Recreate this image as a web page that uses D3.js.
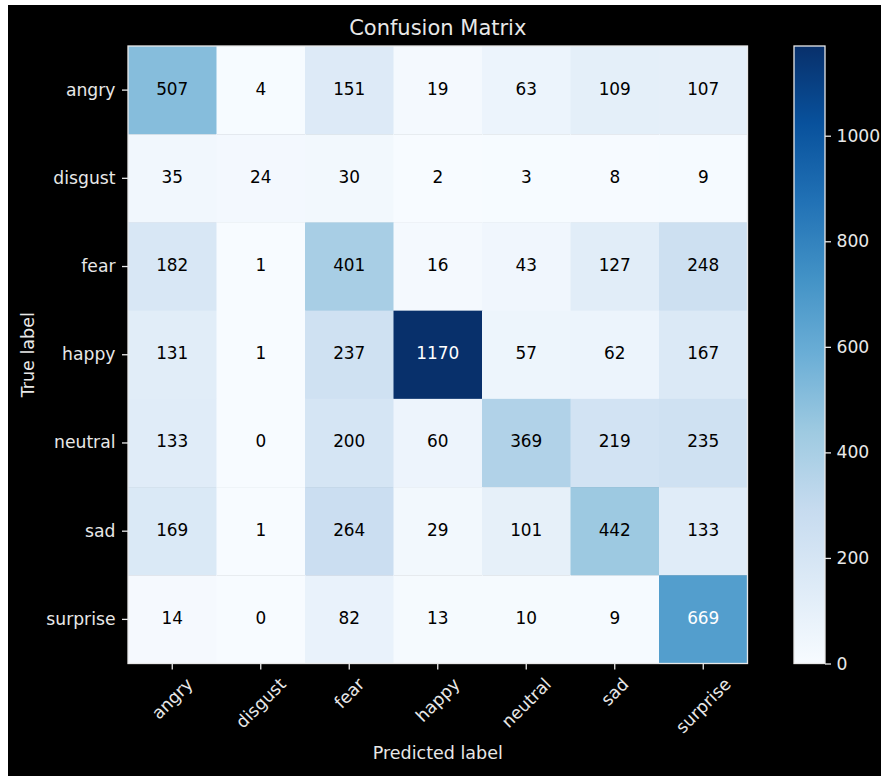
<!DOCTYPE html>
<html>
<head>
<meta charset="utf-8">
<script src="https://cdn.jsdelivr.net/npm/d3@7"></script>
<style>
  html, body { margin: 0; padding: 0; background: #fff; }
  text { font-family: "DejaVu Sans", sans-serif; }
</style>
</head>
<body>
<svg id="chart" width="881" height="776"></svg>
<script>
// class names, same order on both axes
var labels = ["angry", "disgust", "fear", "happy", "neutral", "sad", "surprise"];

// counts, one row per true label
var rowAngry    = [507, 4, 151, 19, 63, 109, 107];
var rowDisgust  = [35, 24, 30, 2, 3, 8, 9];
var rowFear     = [182, 1, 401, 16, 43, 127, 248];
var rowHappy    = [131, 1, 237, 1170, 57, 62, 167];
var rowNeutral  = [133, 0, 200, 60, 369, 219, 235];
var rowSad      = [169, 1, 264, 29, 101, 442, 133];
var rowSurprise = [14, 0, 82, 13, 10, 9, 669];

var colorbarTicks = [0, 200, 400, 600, 800, 1000];

var rows = [rowAngry, rowDisgust, rowFear, rowHappy, rowNeutral, rowSad, rowSurprise];

// matplotlib "Blues" is linear over the 9 brewer colours
var blues = ["#f7fbff","#deebf7","#c6dbef","#9ecae1","#6baed6","#4292c6","#2171b5","#08519c","#08306b"];

var cells = [];
rows.forEach(function (r, i) {
  r.forEach(function (v, j) {
    cells.push({ t: labels[i], p: labels[j], v: v });
  });
});

var vmax = d3.max(cells, function (d) { return d.v; });
var vmin = 0;
var thresh = vmax / 2;

var color = d3.scaleLinear()
  .domain(blues.map(function (c, i) { return vmin + (vmax - vmin) * i / (blues.length - 1); }))
  .range(blues);

var svg = d3.select("#chart");
var fg = "#e8e8e8";
var fs = 17.2;          // tick labels
var tick = 6, lw = 1.3;

// figure background (thin white strip left/top like the screenshot)
svg.append("rect").attr("width", 881).attr("height", 776).attr("fill", "#fff");
svg.append("rect").attr("x", 8).attr("y", 5).attr("width", 873).attr("height", 771).attr("fill", "#000");

var pLeft = 128, pRight = 747.5, pTop = 46, pBottom = 663.5;

var x = d3.scaleBand().domain(labels).range([pLeft, pRight]);
var y = d3.scaleBand().domain(labels).range([pTop, pBottom]);

// heat cells
svg.append("g").selectAll("rect")
  .data(cells)
  .enter()
  .append("rect")
  .attr("x", function (d) { return x(d.p); })
  .attr("y", function (d) { return y(d.t); })
  .attr("width", x.bandwidth() + 0.5)
  .attr("height", y.bandwidth() + 0.5)
  .attr("fill", function (d) { return color(d.v); });

// numbers (matplotlib va=center sits digits a touch high)
svg.append("g").selectAll("text")
  .data(cells)
  .enter()
  .append("text")
  .attr("x", function (d) { return x(d.p) + x.bandwidth() / 2; })
  .attr("y", function (d) { return y(d.t) + y.bandwidth() / 2 - 1.5; })
  .attr("text-anchor", "middle")
  .attr("dominant-baseline", "central")
  .attr("font-size", "16.9px")
  .attr("fill", function (d) { return d.v > thresh ? "#fff" : "#000"; })
  .text(function (d) { return d.v; });

// frame
svg.append("rect")
  .attr("x", pLeft).attr("y", pTop)
  .attr("width", pRight - pLeft).attr("height", pBottom - pTop)
  .attr("fill", "none").attr("stroke", fg).attr("stroke-width", lw);

// y axis
var yAxis = svg.append("g")
  .attr("transform", "translate(" + pLeft + ",0)")
  .call(d3.axisLeft(y).tickSize(tick).tickSizeOuter(0).tickPadding(6.5));
yAxis.select(".domain").remove();
yAxis.selectAll("line").attr("stroke", fg).attr("stroke-width", lw);
yAxis.selectAll("text").attr("fill", fg).attr("font-size", fs + "px")
  .style("font-family", "DejaVu Sans");

// x axis, labels rotated 45 with bbox centred on tick (matplotlib default)
var xAxis = svg.append("g")
  .attr("transform", "translate(0," + pBottom + ")")
  .call(d3.axisBottom(x).tickSize(tick).tickSizeOuter(0));
xAxis.select(".domain").remove();
xAxis.selectAll("line").attr("stroke", fg).attr("stroke-width", lw);
xAxis.selectAll("text")
  .attr("fill", fg).attr("font-size", fs + "px")
  .style("font-family", "DejaVu Sans")
  .attr("text-anchor", "middle")
  .attr("dy", null)
  .attr("dominant-baseline", "central")
  .each(function () {
    var t = d3.select(this);
    var w = this.getComputedTextLength();
    var h = fs * 1.16;
    var half = (w + h) * Math.SQRT1_2 / 2;
    t.attr("y", 0)
     .attr("transform", "translate(0," + (10.5 + half) + ") rotate(-45)");
  });

// axis titles
svg.append("text")
  .attr("x", (pLeft + pRight) / 2).attr("y", 759)
  .attr("text-anchor", "middle").attr("font-size", "17.5px").attr("fill", fg)
  .text("Predicted label");

svg.append("text")
  .attr("transform", "translate(34," + (pTop + pBottom) / 2 + ") rotate(-90)")
  .attr("text-anchor", "middle").attr("font-size", "17.5px").attr("fill", fg)
  .text("True label");

svg.append("text")
  .attr("x", (pLeft + pRight) / 2).attr("y", 35)
  .attr("text-anchor", "middle").attr("font-size", "21px").attr("fill", fg)
  .text("Confusion Matrix");

// colorbar
var cbX = 794, cbW = 31;
var cbScale = d3.scaleLinear().domain([vmin, vmax]).range([pBottom, pTop]);

var grad = svg.append("defs").append("linearGradient")
  .attr("id", "cb").attr("x1", 0).attr("y1", 1).attr("x2", 0).attr("y2", 0);
grad.selectAll("stop")
  .data(blues)
  .enter()
  .append("stop")
  .attr("offset", function (c, i) { return i / (blues.length - 1); })
  .attr("stop-color", function (c) { return c; });

svg.append("rect")
  .attr("x", cbX).attr("y", pTop)
  .attr("width", cbW).attr("height", pBottom - pTop)
  .attr("fill", "url(#cb)")
  .attr("stroke", fg).attr("stroke-width", lw);

var cbAxis = svg.append("g")
  .attr("transform", "translate(" + (cbX + cbW) + ",0)")
  .call(d3.axisRight(cbScale).tickValues(colorbarTicks).tickFormat(d3.format("d"))
    .tickSize(tick).tickPadding(5.5));
cbAxis.select(".domain").remove();
cbAxis.selectAll("line").attr("stroke", fg).attr("stroke-width", lw);
cbAxis.selectAll("text").attr("fill", fg).attr("font-size", fs + "px")
  .style("font-family", "DejaVu Sans");
</script>
</body>
</html>
